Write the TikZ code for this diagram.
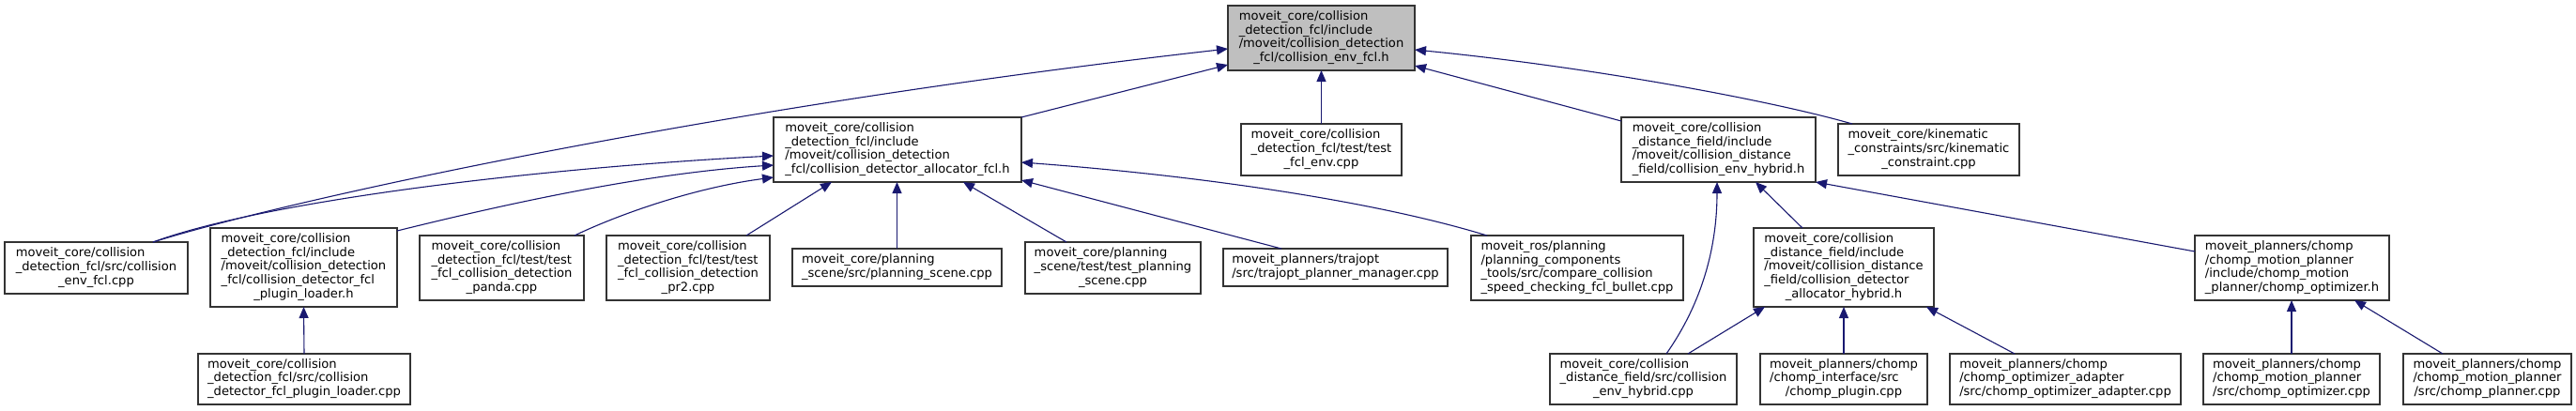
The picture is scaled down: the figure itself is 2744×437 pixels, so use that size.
\documentclass[tikz,border=0pt]{standalone}
\usepackage{fontspec}
\setmainfont{DejaVu Sans}
\usetikzlibrary{arrows.meta,calc}
\definecolor{edgeblue}{HTML}{191970}
\definecolor{rootfill}{HTML}{BFBFBF}
\newcommand\tx[2]{\begin{tabular}{@{}l@{}}#1\\\multicolumn{1}{@{}c@{}}{#2}\end{tabular}}
\newcommand\gbox[7][]{\node[filebox,#1,minimum width={(#5-#3)*1pt},minimum height={(#6-#4)*1pt}] (#2) at ({(#3+#5)/2},{(#4+#6)/2}) {#7};}
\tikzset{
  filebox/.style={draw=black!80, line width=1.3pt, fill=white, inner sep=0pt, outer sep=0pt,
    font=\fontsize{13.1pt}{14.6pt}\selectfont},
  dep/.style={draw=edgeblue, line width=1.1pt, -{Triangle[length=12pt,width=10pt,fill=edgeblue]}}
}
\begin{document}
\begin{tikzpicture}[x=1pt,y=-1pt]
\fill[white] (0,0) rectangle (2744,437);
\useasboundingbox (0,0) rectangle (2744,437);
% row 1
\gbox[fill=rootfill]{root}{1308}{6}{1507}{75}{\tx{moveit\_core/collision\\\_detection\_fcl/include\\/moveit/collision\_detection}{\_fcl/collision\_env\_fcl.h}}
% row 2
\gbox{n2}{824}{125}{1088}{194}{\tx{moveit\_core/collision\\\_detection\_fcl/include\\/moveit/collision\_detection}{\_fcl/collision\_detector\_allocator\_fcl.h}}
\gbox{n3}{1322}{132}{1493}{187}{\tx{moveit\_core/collision\\\_detection\_fcl/test/test}{\_fcl\_env.cpp}}
\gbox{n4}{1727}{125}{1934}{194}{\tx{moveit\_core/collision\\\_distance\_field/include\\/moveit/collision\_distance}{\_field/collision\_env\_hybrid.h}}
\gbox{n5}{1958}{132}{2151}{187}{\tx{moveit\_core/kinematic\\\_constraints/src/kinematic}{\_constraint.cpp}}
% row 3
\gbox{n6}{5}{258}{200}{313}{\tx{moveit\_core/collision\\\_detection\_fcl/src/collision}{\_env\_fcl.cpp}}
\gbox{n7}{224}{243}{423}{327}{\tx{moveit\_core/collision\\\_detection\_fcl/include\\/moveit/collision\_detection\\\_fcl/collision\_detector\_fcl}{\_plugin\_loader.h}}
\gbox{n8}{447}{251}{622}{320}{\tx{moveit\_core/collision\\\_detection\_fcl/test/test\\\_fcl\_collision\_detection}{\_panda.cpp}}
\gbox{n9}{646}{251}{820}{320}{\tx{moveit\_core/collision\\\_detection\_fcl/test/test\\\_fcl\_collision\_detection}{\_pr2.cpp}}
\gbox{n10}{844}{265}{1067}{305}{\tx{moveit\_core/planning}{\_scene/src/planning\_scene.cpp}}
\gbox{n11}{1092}{258}{1279}{313}{\tx{moveit\_core/planning\\\_scene/test/test\_planning}{\_scene.cpp}}
\gbox{n12}{1303}{265}{1542}{305}{\tx{moveit\_planners/trajopt}{/src/trajopt\_planner\_manager.cpp}}
\gbox{n13}{1567}{251}{1793}{320}{\tx{moveit\_ros/planning\\/planning\_components\\\_tools/src/compare\_collision}{\_speed\_checking\_fcl\_bullet.cpp}}
\gbox{n14}{1868}{243}{2060}{327}{\tx{moveit\_core/collision\\\_distance\_field/include\\/moveit/collision\_distance\\\_field/collision\_detector}{\_allocator\_hybrid.h}}
\gbox{n15}{2338}{251}{2545}{320}{\tx{moveit\_planners/chomp\\/chomp\_motion\_planner\\/include/chomp\_motion}{\_planner/chomp\_optimizer.h}}
% row 4
\gbox{n16}{211}{377}{437}{431}{\tx{moveit\_core/collision\\\_detection\_fcl/src/collision}{\_detector\_fcl\_plugin\_loader.cpp}}
\gbox{n17}{1651}{377}{1850}{431}{\tx{moveit\_core/collision\\\_distance\_field/src/collision}{\_env\_hybrid.cpp}}
\gbox{n18}{1875}{377}{2053}{431}{\tx{moveit\_planners/chomp\\/chomp\_interface/src}{/chomp\_plugin.cpp}}
\gbox{n19}{2077}{377}{2323}{431}{\tx{moveit\_planners/chomp\\/chomp\_optimizer\_adapter}{/src/chomp\_optimizer\_adapter.cpp}}
\gbox{n20}{2347}{377}{2535}{431}{\tx{moveit\_planners/chomp\\/chomp\_motion\_planner}{/src/chomp\_optimizer.cpp}}
\gbox{n21}{2560}{377}{2739}{431}{\tx{moveit\_planners/chomp\\/chomp\_motion\_planner}{/src/chomp\_planner.cpp}}
% edges
\draw[dep] ([xshift=60.5pt]n6.north) .. controls (300,215) and (750,115) .. ([yshift=-11.5pt]root.west);
\draw[dep] ([xshift=60.5pt]n6.north) .. controls (280,215) and (560,180) .. ([yshift=-6.5pt]n2.west);
\draw[dep] ([yshift=-3pt]n7.north east) .. controls (520,222) and (680,185) .. ([yshift=-16.5pt]n2.west);
\draw[dep] ([xshift=-10pt]n8.north east) .. controls (660,228) and (740,200) .. ([yshift=5pt]n2.south west);
\draw[dep] ([xshift=62pt]n9.north) -- ([xshift=-70pt]n2.south);
\draw[dep] (n10.north) -- (n10.north |- n2.south);
\draw[dep] ([xshift=-49.5pt]n11.north) -- ([xshift=70pt]n2.south);
\draw[dep] ([xshift=-57.5pt]n12.north) -- ([yshift=2pt]n2.south east);
\draw[dep] ([xshift=17pt]n13.north west) .. controls (1450,210) and (1250,185) .. ([yshift=-13.5pt]n2.east);
\draw[dep] (n2.north east) -- ([yshift=6pt]root.south west);
\draw[dep] (n3.north) -- (root.south);
\draw[dep] ([yshift=-4pt]n4.north west) -- ([yshift=5pt]root.south east);
\draw[dep] ([xshift=15pt]n5.north west) .. controls (1890,108) and (1700,72) .. ([yshift=-12.5pt]root.east);
\draw[dep] (n16.north) -- (n7.south);
\draw[dep] ([xshift=24.5pt]n17.north) .. controls (1815,320) and (1829,260) .. ([xshift=-1.5pt]n4.south);
\draw[dep] ([xshift=-44pt]n14.north) -- ([xshift=39.5pt]n4.south);
\draw[dep] ([yshift=17.5pt]n15.west) -- (n4.south east);
\draw[dep] ([xshift=-52pt]n17.north east) -- ([xshift=12pt]n14.south west);
\draw[dep] (n18.north) -- (n14.south);
\draw[dep] ([xshift=-54pt]n19.north) -- ([xshift=-8pt]n14.south east);
\draw[dep] (n20.north) -- (n20.north |- n15.south);
\draw[dep] ([xshift=-47.5pt]n21.north) -- ([xshift=-37pt]n15.south east);
\end{tikzpicture}
\end{document}
